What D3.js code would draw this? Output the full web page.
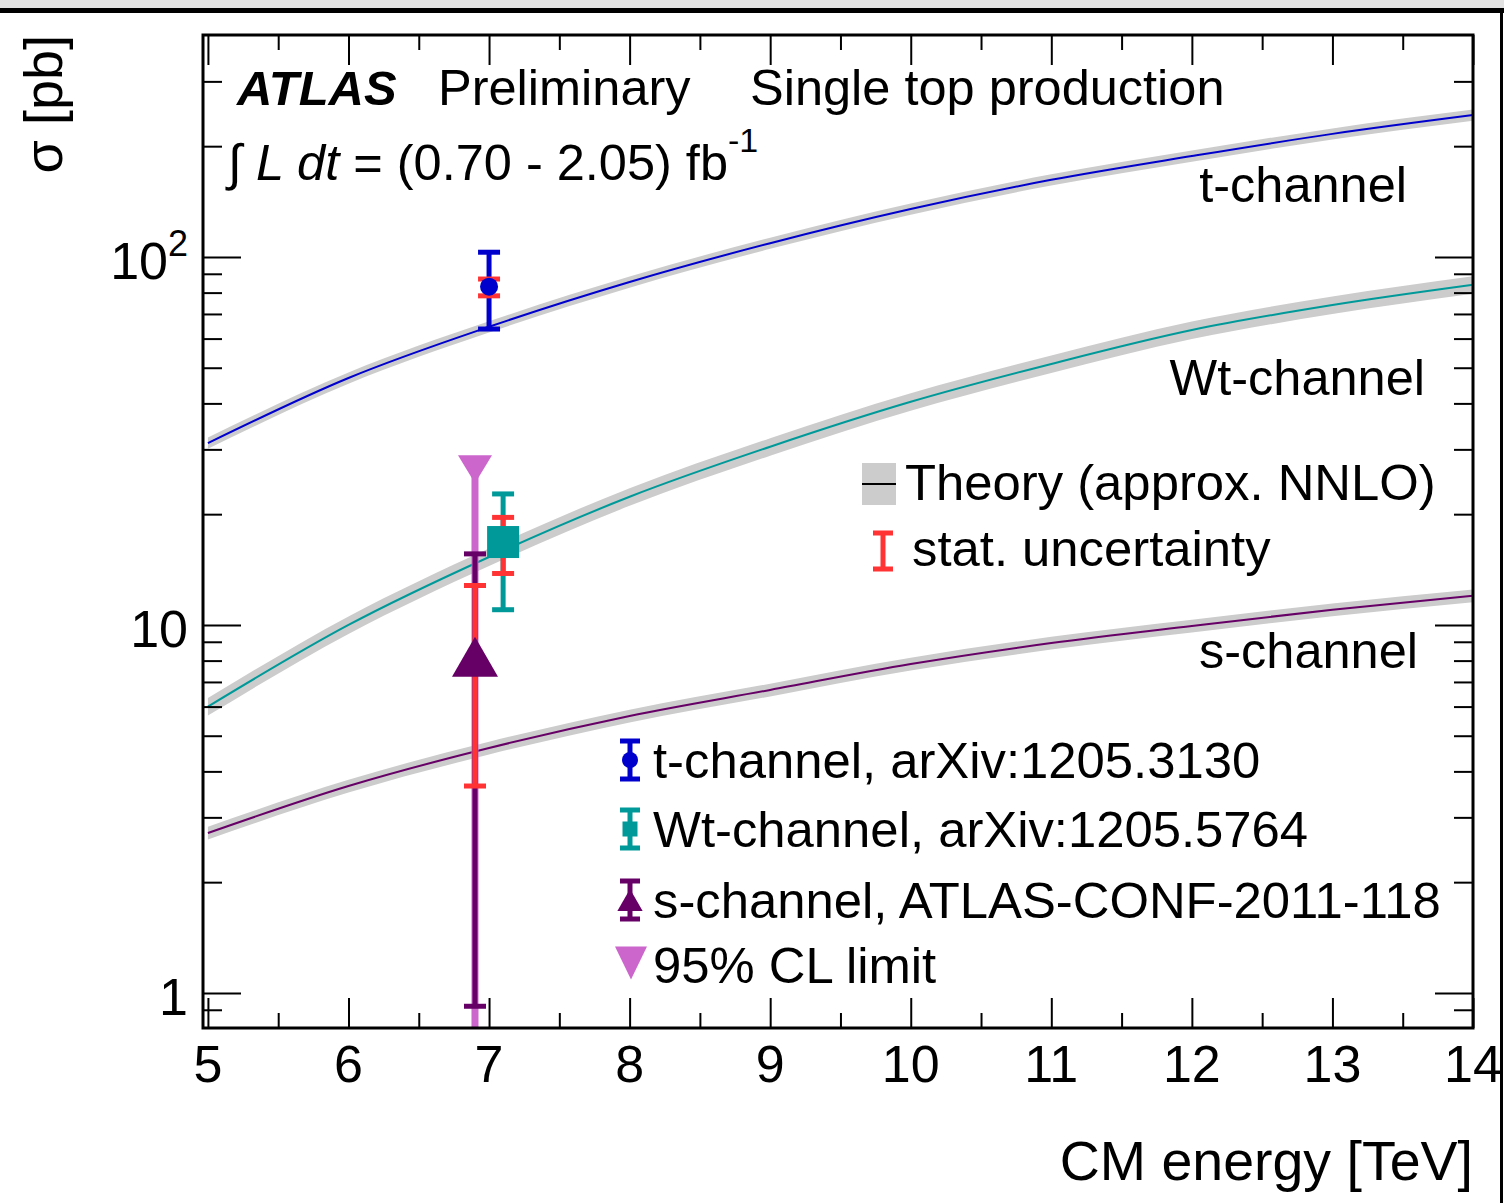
<!DOCTYPE html>
<html>
<head>
<meta charset="utf-8">
<title>Single top production</title>
<script src="https://d3js.org/d3.v7.min.js"></script>
<style>
  body { margin: 0; background: white; }
  text { font-family: "Liberation Sans", Arial, Helvetica, sans-serif; fill: black; }
  .axis path, .axis line { stroke: black; }
</style>
</head>
<body>
<svg id="canvas" width="1504" height="1203"></svg>
<script>
// theory curves (approx. NNLO)
const energies = [5, 6, 7, 8, 9, 10, 11, 12, 13, 14]
const tChannel = [31.2, 46.9, 64.6, 85.5, 109, 135, 162, 188, 216, 243]
const wtChannel = [6.0, 10.0, 15.3, 22.3, 30.5, 40.4, 51.2, 63.3, 74, 84]
const sChannel = [2.72, 3.65, 4.63, 5.66, 6.66, 7.83, 8.93, 9.94, 11.0, 12.0]
const curveNames = ['t-channel', 'Wt-channel', 's-channel']
const curveColors = ['#0000cc', '#009999', '#660066']
const bandFrac = [0.035, 0.055, 0.04]

// measurements at 7 TeV (plotted slightly offset)
const measNames = ['t-channel, arXiv:1205.3130', 'Wt-channel, arXiv:1205.5764', 's-channel, ATLAS-CONF-2011-118']
const measE = [7.0, 7.1, 6.9]
const measVal = [83, 16.8, 8.2]
const measTotLo = [63.7, 11.0, 0.92]
const measTotHi = [103, 22.7, 15.6]
const measStatLo = [78.4, 13.8, 3.65]
const measStatHi = [87.1, 19.6, 12.8]
const measMarker = ['circle', 'square', 'triangle']

// s-channel 95% CL limit
const limitE = 6.9
const limitVal = 26.5

const xTicks = [5, 6, 7, 8, 9, 10, 11, 12, 13, 14]
const xMinor = [5.5, 6.5, 7.5, 8.5, 9.5, 10.5, 11.5, 12.5, 13.5]
const yTicks = [1, 10, 100]

const statColor = '#ff3333'
const bandColor = '#cccccc'
const limitColor = '#cc66cc'

const svg = d3.select('#canvas')
const frame = { left: 203, right: 1473, top: 35, bottom: 1028 }

// window frame bits of the screenshot
svg.append('rect').attr('x', 0).attr('y', 0).attr('width', 1504).attr('height', 8).attr('fill', '#e2e2e2')
svg.append('rect').attr('x', 0).attr('y', 8).attr('width', 1504).attr('height', 5).attr('fill', 'black')
svg.append('rect').attr('x', 1500).attr('y', 8).attr('width', 3).attr('height', 1195).attr('fill', 'black')

const x = d3.scaleLinear().domain([4.965, 14]).range([frame.left, frame.right])
const y = d3.scaleLog().domain([0.803, 401]).range([frame.bottom, frame.top])

const plot = svg.append('g')

// theory bands and lines
const series = [tChannel, wtChannel, sChannel]
series.forEach((vals, k) => {
  const pts = energies.map((e, i) => ({ e, v: vals[i] }))
  const area = d3.area()
    .x(d => x(d.e))
    .y0(d => y(d.v * (1 - bandFrac[k])))
    .y1(d => y(d.v * (1 + bandFrac[k])))
    .curve(d3.curveMonotoneX)
  const line = d3.line().x(d => x(d.e)).y(d => y(d.v)).curve(d3.curveMonotoneX)
  plot.append('path').datum(pts).attr('d', area).attr('fill', bandColor)
  plot.append('path').datum(pts).attr('d', line)
    .attr('fill', 'none').attr('stroke', curveColors[k]).attr('stroke-width', 2)
})

// limit line down to the axis
plot.append('line')
  .attr('x1', x(limitE)).attr('x2', x(limitE))
  .attr('y1', y(limitVal)).attr('y2', frame.bottom)
  .attr('stroke', limitColor).attr('stroke-width', 7)

const tri = (cx, cy, w, h, down) => {
  const s = down ? -1 : 1
  return `M${cx},${cy - s * h / 2}L${cx + w / 2},${cy + s * h / 2}L${cx - w / 2},${cy + s * h / 2}Z`
}

const errBar = (g, cx, y1, y2, color, lw, cap, capT) => {
  g.append('line').attr('x1', cx).attr('x2', cx).attr('y1', y1).attr('y2', y2)
    .attr('stroke', color).attr('stroke-width', lw)
  ;[y1, y2].forEach(yy => {
    g.append('line').attr('x1', cx - cap / 2).attr('x2', cx + cap / 2)
      .attr('y1', yy).attr('y2', yy).attr('stroke', color).attr('stroke-width', capT)
  })
}

const drawMarker = (g, type, cx, cy, color, size) => {
  if (type === 'circle') {
    g.append('circle').attr('cx', cx).attr('cy', cy).attr('r', size / 2).attr('fill', color)
  } else if (type === 'square') {
    g.append('rect').attr('x', cx - size / 2).attr('y', cy - size / 2)
      .attr('width', size).attr('height', size).attr('fill', color)
  } else {
    g.append('path').attr('d', tri(cx, cy, size * 1.15, size, false)).attr('fill', color)
  }
}

// data points
const markerSize = [18, 32, 40]
measE.forEach((e, i) => {
  const cx = x(e)
  errBar(plot, cx, y(measTotHi[i]), y(measTotLo[i]), curveColors[i], 5, 22, 5)
  errBar(plot, cx, y(measStatHi[i]), y(measStatLo[i]), statColor, 5, 22, 5)
  drawMarker(plot, measMarker[i], cx, y(measVal[i]), curveColors[i], markerSize[i])
})

// limit marker
plot.append('path').attr('d', tri(x(limitE), y(limitVal), 34, 28, true)).attr('fill', limitColor)

// axes (ticks pointing inward, mirrored on top/right)
const addAxis = (axis, tx, ty) => {
  const g = svg.append('g').attr('class', 'axis')
    .attr('transform', `translate(${tx},${ty})`).call(axis)
  g.select('.domain').remove()
  g.selectAll('line').attr('stroke-width', 2)
  g.selectAll('text').remove()
  return g
}
addAxis(d3.axisBottom(x).tickValues(xTicks).tickSize(-30), 0, frame.bottom)
addAxis(d3.axisBottom(x).tickValues(xMinor).tickSize(-15), 0, frame.bottom)
addAxis(d3.axisTop(x).tickValues(xTicks).tickSize(-30), 0, frame.top)
addAxis(d3.axisTop(x).tickValues(xMinor).tickSize(-15), 0, frame.top)

const yMinor = []
;[0.1, 1, 10, 100].forEach(dec => {
  for (let m = 2; m <= 9; m++) {
    const v = dec * m
    if (v > 0.82 && v < 390) yMinor.push(v)
  }
})
addAxis(d3.axisLeft(y).tickValues(yTicks).tickSize(-38), frame.left, 0)
addAxis(d3.axisLeft(y).tickValues(yMinor).tickSize(-19), frame.left, 0)
addAxis(d3.axisRight(y).tickValues(yTicks).tickSize(-38), frame.right, 0)
addAxis(d3.axisRight(y).tickValues(yMinor).tickSize(-19), frame.right, 0)

// frame
svg.append('rect').attr('x', frame.left).attr('y', frame.top)
  .attr('width', frame.right - frame.left).attr('height', frame.bottom - frame.top)
  .attr('fill', 'none').attr('stroke', 'black').attr('stroke-width', 3)

// tick labels
xTicks.forEach(t => {
  svg.append('text').attr('x', x(t)).attr('y', 1082)
    .attr('text-anchor', 'middle').style('font-size', '52px').text(t)
})
yTicks.forEach(t => {
  const txt = svg.append('text').attr('x', 188).attr('y', y(t) + 22)
    .attr('text-anchor', 'end').style('font-size', '52px')
  if (t === 100) {
    txt.append('tspan').text('10')
    txt.append('tspan').attr('dy', -23).style('font-size', '36px').text('2')
  } else {
    txt.text(t)
  }
})

// axis titles
svg.append('text').attr('x', frame.right).attr('y', 1180)
  .attr('text-anchor', 'end').style('font-size', '55.5px').text('CM energy [TeV]')
svg.append('text').attr('transform', `translate(62,${frame.top}) rotate(-90)`)
  .attr('text-anchor', 'end').style('font-size', '54px').text('σ [pb]')

// header texts
svg.append('text').attr('x', 237).attr('y', 105)
  .style('font-size', '49px').style('font-weight', 'bold').style('font-style', 'italic').text('ATLAS')
svg.append('text').attr('x', 438).attr('y', 105).style('font-size', '50.5px').text('Preliminary')
svg.append('text').attr('x', 750).attr('y', 105).style('font-size', '50.5px').text('Single top production')

const lumi = svg.append('text').attr('x', 228).attr('y', 180).style('font-size', '50.5px')
lumi.append('tspan').text('∫ ')
lumi.append('tspan').style('font-style', 'italic').text('L dt')
lumi.append('tspan').text(' = (0.70 - 2.05) fb')
lumi.append('tspan').attr('dy', -28).style('font-size', '34px').text('-1')

// curve labels
const curveLabelX = [1407, 1425, 1418]
const curveLabelY = [202, 395, 668]
curveNames.forEach((n, i) => {
  svg.append('text').attr('x', curveLabelX[i]).attr('y', curveLabelY[i])
    .attr('text-anchor', 'end').style('font-size', '50.5px').text(n)
})

// legend: theory + stat
svg.append('rect').attr('x', 862).attr('y', 463).attr('width', 34).attr('height', 42).attr('fill', bandColor)
svg.append('line').attr('x1', 862).attr('x2', 896).attr('y1', 484).attr('y2', 484)
  .attr('stroke', 'black').attr('stroke-width', 2)
svg.append('text').attr('x', 905).attr('y', 500).style('font-size', '50.8px').text('Theory (approx. NNLO)')
errBar(svg, 883, 533, 569, statColor, 5, 20, 5)
svg.append('text').attr('x', 912).attr('y', 566).style('font-size', '50.8px').text('stat. uncertainty')

// legend: measurements
const legY = [760, 829, 900]
const legMarker = [16, 15, 22]
measNames.forEach((n, i) => {
  errBar(svg, 630, legY[i] - 19, legY[i] + 19, curveColors[i], 5, 20, 5)
  drawMarker(svg, measMarker[i], 630, legY[i], curveColors[i], legMarker[i])
  svg.append('text').attr('x', 653).attr('y', legY[i] + 18).style('font-size', '50.8px').text(n)
})
svg.append('path').attr('d', tri(631, 963, 32, 33, true)).attr('fill', limitColor)
svg.append('text').attr('x', 653).attr('y', 983).style('font-size', '50.8px').text('95% CL limit')
</script>
</body>
</html>
